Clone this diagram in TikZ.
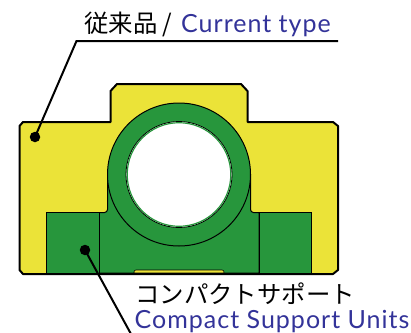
\documentclass[tikz,border=0pt]{standalone}
\usepackage{fontspec}
\setmainfont{Lato}[LetterSpace=4]
\newfontfamily\cjk{Noto Sans CJK JP}
\definecolor{bodyyellow}{HTML}{EBE338}
\definecolor{unitgreen}{HTML}{27963C}
\definecolor{labelblue}{HTML}{333399}
\begin{document}
\begin{tikzpicture}[x=1pt,y=-1pt,
                    body/.style={fill=bodyyellow,draw=black,line width=2pt,line join=round},
                    unit/.style={fill=unitgreen,draw=black,line width=1pt},
                    leader/.style={line width=2pt,line join=miter},
                    dot/.style={circle,fill=black,inner sep=0pt,minimum size=10.5pt},
                    label jp/.style={anchor=base west,inner sep=0pt,font=\fontsize{24.4}{24.4}\selectfont\cjk},
                    label en/.style={anchor=base west,inner sep=0pt,text=labelblue,font=\fontsize{25}{25}\selectfont}]
            \path[use as bounding box] (0,0) rectangle (411,332);

            \coordinate (center) at (179,174.5);
            \coordinate (bend old) at (76.5,41);
            \coordinate (end old) at (338,41);
            \coordinate (end new) at (131,334);

            \draw[body] (19.5,126) -- (23,122) -- (110.5,122) -- (110.5,91) -- (117,84)
                -- (241,84) -- (247.5,91) -- (247.5,122) -- (333,122) -- (338,126)
                -- (338,270) -- (333,274) -- (23,274) -- (19.5,270) -- cycle;

            \draw[unit] (99,273) -- (99,212.5) -- (104.5,212.5) arc[start angle=90,end angle=0,radius=3]
                -- (107.5,174.5) -- (250.5,174.5) -- (250.5,209.5)
                arc[start angle=180,end angle=90,radius=3] -- (259,212.5) -- (259,273) -- cycle;
            \draw[unit] (46.5,212.5) rectangle (99,273);
            \draw[unit] (259,212.5) rectangle (311.5,273);
            \draw[unit] (center) circle[radius=71.5];
            \draw[fill=bodyyellow,draw=black,line width=0.6pt] (134,273) -- (134,272) arc[start angle=180,end angle=270,radius=2] -- (222,270)
                arc[start angle=270,end angle=360,radius=2] -- (224,273) -- cycle;
            \draw[line width=2pt] (23,274) -- (333,274);
            \draw[fill=white,draw=black,line width=0.8pt] (center) circle[radius=53];
            \draw[draw=unitgreen,line width=1.2pt] (center) circle[radius=51.8];

            \node[dot] (dot old) at (35,137) {};
            \node[dot] (dot new) at (85,250) {};
            \draw[leader] (dot old.center) -- (bend old) -- (end old);
            \draw[leader] (dot new.center) -- (end new);

            \node[label jp] (title old) at (84,32.5) {従来品};
            \node[label jp,anchor=base] (slash old) at (167.5,32.5) {/};
            \node[label en] (name old) at (181,32.5) {Current type};
            \node[label jp] (title new) at (135,303) {コンパクトサポート};
            \node[label en] (name new) at (134.5,328) {Compact Support Units};
        \end{tikzpicture}
\end{document}
